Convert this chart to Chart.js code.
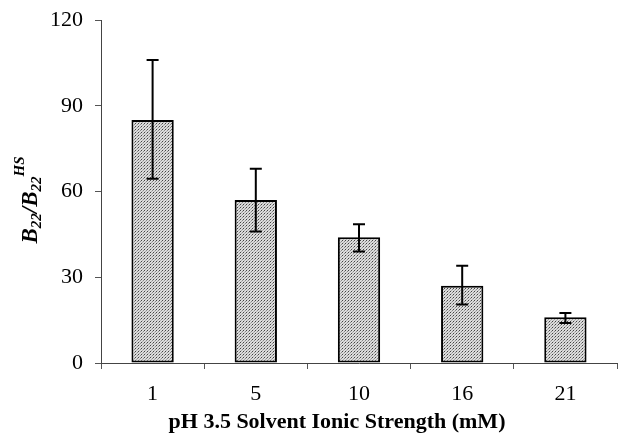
<!DOCTYPE html>
<html lang="en">
<head>
    <meta charset="UTF-8">
    <script src="https://cdn.jsdelivr.net/npm/chart.js"></script>
    <title>B22 vs ionic strength</title>
    <style>
        body { margin: 0; background: #fff; }
        #wrap { width: 618px; height: 440px; }
    </style>
</head>
<body>
<div id="wrap"><canvas id="chart" width="618" height="440"></canvas></div>

<script>
    // data
    const strengths = ['1', '5', '10', '16', '21'];
    const ratio = [85, 57, 44, 27, 16];
    const errLow = [64.5, 46, 39, 20.5, 14];
    const errHigh = [106, 68, 48.5, 34, 17.5];
    const yTicks = [0, 30, 60, 90, 120];

    const serif = '"Liberation Serif", "Times New Roman", serif';

    // stippled grey fill like the print
    function dotPattern() {
        const c = document.createElement('canvas');
        c.width = 3; c.height = 3;
        const g = c.getContext('2d');
        g.fillStyle = '#dcdcdc';
        g.fillRect(0, 0, 3, 3);
        g.fillStyle = '#444';
        g.fillRect(0, 0, 1, 1);
        g.fillStyle = '#888';
        g.fillRect(2, 1, 1, 1);
        g.fillStyle = '#aaa';
        g.fillRect(1, 2, 1, 1);
        return g.createPattern(c, 'repeat');
    }

    const errorBars = {
        id: 'errorBars',
        afterDatasetsDraw(chart) {
            const ctx = chart.ctx;
            const x = chart.scales.x, y = chart.scales.y;
            ctx.save();
            ctx.strokeStyle = '#000';
            ctx.lineWidth = 2;
            strengths.forEach((s, i) => {
                const px = x.getPixelForValue(i);
                const top = y.getPixelForValue(errHigh[i]);
                const bot = y.getPixelForValue(errLow[i]);
                ctx.beginPath();
                ctx.moveTo(px, top); ctx.lineTo(px, bot);
                ctx.moveTo(px - 6, top); ctx.lineTo(px + 6, top);
                ctx.moveTo(px - 6, bot); ctx.lineTo(px + 6, bot);
                ctx.stroke();
            });
            ctx.restore();
        }
    };

    // axis titles: y has sub/superscripts, x sits a bit left of the plot centre
    const axisTitles = {
        id: 'axisTitles',
        afterDraw(chart) {
            const ctx = chart.ctx;
            ctx.save();
            ctx.fillStyle = '#000';
            ctx.textBaseline = 'alphabetic';

            ctx.font = 'bold 22px ' + serif;
            ctx.textAlign = 'center';
            ctx.fillText('pH 3.5 Solvent Ionic Strength (mM)', 337, 428);

            const parts = [
                { t: 'B', size: 23, dy: 0 },
                { t: '22', size: 15, dy: 4 },
                { t: '/B', size: 23, dy: 0 },
                { t: '22', size: 15, dy: 4 },
                { t: 'HS', size: 15, dy: -13 }
            ];
            ctx.textAlign = 'left';
            ctx.translate(37, 200);
            ctx.rotate(-Math.PI / 2);
            let w = 0;
            parts.forEach(p => {
                ctx.font = 'italic bold ' + p.size + 'px ' + serif;
                w += ctx.measureText(p.t).width;
            });
            let cx = -w / 2;
            parts.forEach(p => {
                ctx.font = 'italic bold ' + p.size + 'px ' + serif;
                ctx.fillText(p.t, cx, p.dy);
                cx += ctx.measureText(p.t).width;
            });
            ctx.restore();
        }
    };

    new Chart(document.getElementById('chart'), {
        type: 'bar',
        data: {
            labels: strengths,
            datasets: [{
                data: ratio,
                backgroundColor: dotPattern(),
                borderColor: '#000',
                borderWidth: 2,
                borderSkipped: false,
                categoryPercentage: 1,
                barPercentage: 0.41
            }]
        },
        options: {
            responsive: false,
            animation: false,
            layout: { padding: { top: 20, right: 1, left: 0, bottom: 0 } },
            plugins: { legend: { display: false }, tooltip: { enabled: false } },
            scales: {
                x: {
                    offset: true,
                    grid: { offset: true, drawOnChartArea: false, drawTicks: true, tickLength: 6, color: '#555' },
                    border: { color: '#444', width: 1 },
                    ticks: { color: '#000', font: { family: serif, size: 22 }, padding: 12 },
                    afterFit(s) { s.height = 77; }
                },
                y: {
                    min: 0,
                    max: 120,
                    afterBuildTicks(s) { s.ticks = yTicks.map(v => ({ value: v })); },
                    grid: { drawOnChartArea: false, drawTicks: true, tickLength: 6, color: '#555' },
                    border: { color: '#444', width: 1 },
                    ticks: { color: '#000', font: { family: serif, size: 22, lineHeight: 0.6 }, padding: 12 },
                    afterFit(s) { s.width = 101; }
                }
            }
        },
        plugins: [errorBars, axisTitles]
    });
</script>
</body>
</html>
